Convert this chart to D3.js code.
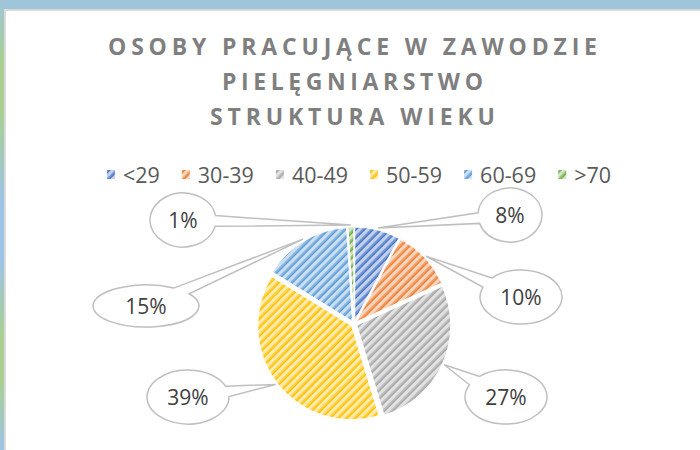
<!DOCTYPE html>
<html>
<head>
<meta charset="utf-8">
<title>Struktura wieku</title>
<script src="https://d3js.org/d3.v7.min.js"></script>
<style>
  body { margin: 0; background: #fff; }
  svg { display: block; font-family: "Open Sans", sans-serif; }
</style>
</head>
<body>
<div id="chart"></div>
<script>
var categories = ["<29", "30-39", "40-49", "50-59", "60-69", ">70"];
var values = [7.8, 10.4, 27.1, 38.5, 15.2, 1.0];
var colors = ["#4472c4", "#ed7d31", "#a5a5a5", "#ffc000", "#5b9bd5", "#70ad47"];
var titleLines = ["OSOBY PRACUJĄCE W ZAWODZIE", "PIELĘGNIARSTWO", "STRUKTURA WIEKU"];

// where excel put each callout bubble (same order as categories)
var bubbles = [
  {cx: 510, cy: 215, rx: 32, ry: 27},
  {cx: 521, cy: 297, rx: 41, ry: 27},
  {cx: 506, cy: 397, rx: 41, ry: 27},
  {cx: 188, cy: 397, rx: 41, ry: 27},
  {cx: 146, cy: 306, rx: 53, ry: 21},
  {cx: 183, cy: 220, rx: 33, ry: 27}
];

var width = 700, height = 450;
var cx = 354, cy = 324, radius = 94, explode = 3;

var svg = d3.select("#chart").append("svg")
    .attr("width", width)
    .attr("height", height);

var defs = svg.append("defs");

// frame: blue band on top, gradient strip on the left
var grad = defs.append("linearGradient")
    .attr("id", "leftStrip")
    .attr("x1", 0).attr("y1", 0).attr("x2", 0).attr("y2", 1);
[[0, "#9fc5da"], [0.14, "#a9d08e"], [0.24, "#a9d08e"], [0.45, "#9dc3e6"], [0.58, "#9dc3e6"],
 [0.75, "#a9d08e"], [0.84, "#a9d08e"], [1, "#9dc3e6"]].forEach(function(s) {
  grad.append("stop").attr("offset", s[0]).attr("stop-color", s[1]);
});

svg.append("rect").attr("x", 0).attr("y", 0).attr("width", width).attr("height", 9).attr("fill", "#9fc5da");
svg.append("rect").attr("x", 0).attr("y", 9).attr("width", width).attr("height", 2).attr("fill", "#d9d9d9");
svg.append("rect").attr("x", 0).attr("y", 0).attr("width", 4).attr("height", height).attr("fill", "url(#leftStrip)");
svg.append("rect").attr("x", 4).attr("y", 9).attr("width", 2).attr("height", height).attr("fill", "#d9d9d9");

// hatch patterns, one per series
defs.selectAll("pattern")
    .data(colors)
    .enter().append("pattern")
    .attr("id", function(d, i) { return "pat" + i; })
    .attr("patternUnits", "userSpaceOnUse")
    .attr("width", 6)
    .attr("height", 6)
    .attr("patternTransform", "rotate(45)")
    .each(function(c) {
      var p = d3.select(this);
      p.append("rect").attr("width", 6).attr("height", 6).attr("fill", d3.interpolateRgb(c, "#fff")(0.68));
      p.append("rect").attr("x", 0).attr("width", 1.4).attr("height", 6).attr("fill", d3.interpolateRgb(c, "#fff")(0.3));
      p.append("rect").attr("x", 1.4).attr("width", 1.6).attr("height", 6).attr("fill", c);
    });

// title
svg.append("g")
    .selectAll("text")
    .data(titleLines)
    .enter().append("text")
    .attr("x", 352.5)
    .attr("y", function(d, i) { return 55 + i * 35; })
    .attr("text-anchor", "middle")
    .attr("font-size", 23)
    .attr("font-weight", "bold")
    .attr("fill", "#7f7f7f")
    .attr("textLength", function(d, i) { return [489, 261, 285][i]; })
    .attr("lengthAdjust", "spacing")
    .text(function(d) { return d; });

// legend
var legend = svg.append("g").attr("font-size", 21.5).attr("fill", "#595959");
var items = legend.selectAll("g")
    .data(categories)
    .enter().append("g");
items.append("rect")
    .attr("y", 170)
    .attr("width", 8)
    .attr("height", 9)
    .attr("fill", function(d, i) { return "url(#pat" + i + ")"; });
items.append("text")
    .attr("x", 16)
    .attr("y", 183)
    .text(function(d) { return d; });
var xpos = 0;
items.each(function() {
  var w = 16 + d3.select(this).select("text").node().getComputedTextLength();
  d3.select(this).attr("transform", "translate(" + xpos + ",0)");
  xpos += w + 22;
});
legend.attr("transform", "translate(" + (359 - (xpos - 22) / 2) + ",0)");

// pie
var pie = d3.pie().sort(null).value(function(d) { return d; });
var arcs = pie(values);
var arc = d3.arc().innerRadius(0).outerRadius(radius);
var tipArc = d3.arc().innerRadius(radius + 5).outerRadius(radius + 5);

var g = svg.append("g").attr("transform", "translate(" + cx + "," + cy + ")");

g.selectAll("path.slice")
    .data(arcs)
    .enter().append("path")
    .attr("class", "slice")
    .attr("transform", function(d) {
      var a = (d.startAngle + d.endAngle) / 2;
      return "translate(" + (Math.sin(a) * explode) + "," + (-Math.cos(a) * explode) + ")";
    })
    .attr("d", arc)
    .attr("fill", function(d, i) { return "url(#pat" + i + ")"; })
    .attr("stroke", "#fff")
    .attr("stroke-width", 1);

// ellipse callouts with a wedge pointing at the slice
function calloutPath(b, tx, ty) {
  var t = Math.atan2((ty - b.cy) / b.ry, (tx - b.cx) / b.rx);
  var dlt = 0.2;
  var p1 = [b.cx + b.rx * Math.cos(t + dlt), b.cy + b.ry * Math.sin(t + dlt)];
  var p2 = [b.cx + b.rx * Math.cos(t - dlt), b.cy + b.ry * Math.sin(t - dlt)];
  return "M" + p1 + "A" + b.rx + "," + b.ry + " 0 1 1 " + p2 + "L" + tx + "," + ty + "Z";
}

var callouts = svg.append("g")
    .selectAll("g")
    .data(arcs)
    .enter().append("g");

callouts.append("path")
    .attr("d", function(d, i) {
      var tip = tipArc.centroid(d);
      return calloutPath(bubbles[i], cx + tip[0], cy + tip[1]);
    })
    .attr("fill", "#fff")
    .attr("stroke", "#bfbfbf")
    .attr("stroke-width", 1.5)
    .attr("stroke-linejoin", "miter");

callouts.append("text")
    .attr("x", function(d, i) { return bubbles[i].cx; })
    .attr("y", function(d, i) { return bubbles[i].cy + 7.5; })
    .attr("text-anchor", "middle")
    .attr("font-size", 21)
    .attr("fill", "#404040")
    .text(function(d) { return Math.round(d.value) + "%"; });
</script>
</body>
</html>
